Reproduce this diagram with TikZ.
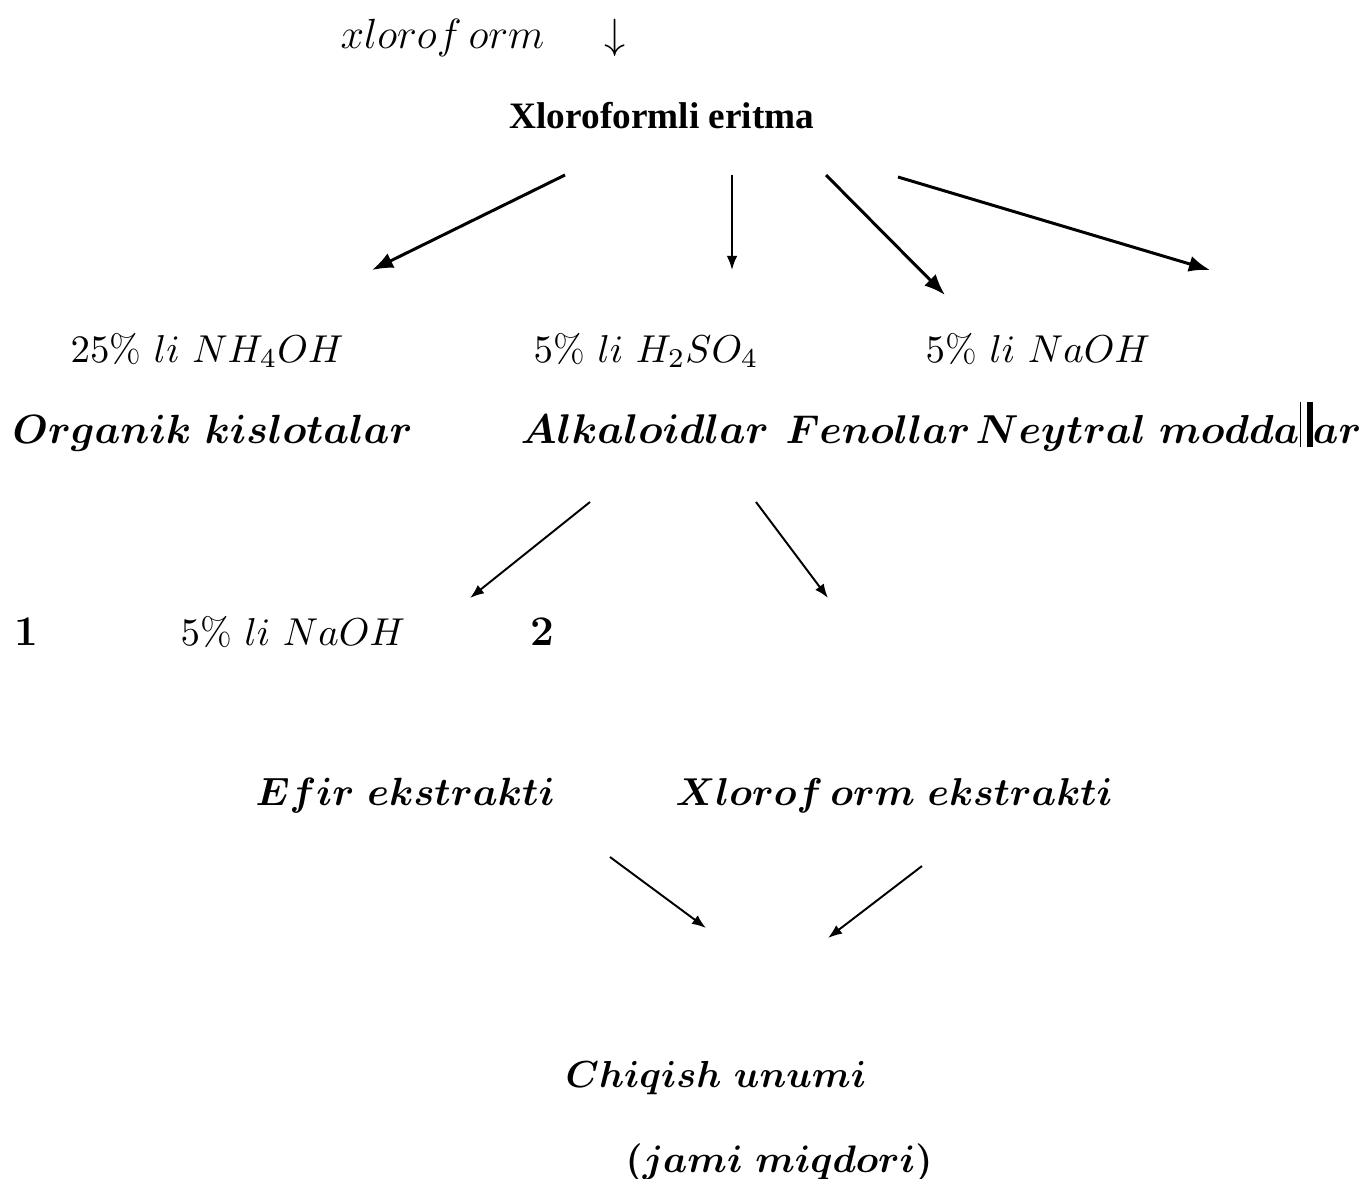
\RequirePackage{fix-cm}
\documentclass[tikz,border=0pt]{standalone}
\usepackage{fontspec}
\usepackage{amsmath}
\usetikzlibrary{arrows.meta}
\newfontfamily\timesbf{Liberation Serif}

\begin{document}
\begin{tikzpicture}[x=0.01cm,y=-0.01cm,
  reag/.style={anchor=base west,inner sep=0pt,font=\fontsize{#1}{14}\selectfont},
  reag/.default=11.05,
  prod/.style={anchor=base west,inner sep=0pt,font=\fontsize{#1}{14}\selectfont\boldmath},
  prod/.default=11.1,
  thickarr/.style={-{Latex[length=6pt,width=4.6pt]},line width=0.85pt},
  thinarr/.style={-{Latex[length=4pt,width=3pt]},line width=0.55pt}]
  \useasboundingbox (0,0) rectangle (1364,1178);

  % Kopf
  \node[reag=12] (xlf) at (340,48) {$xlorof\,orm$};
  \node[reag=12] (dn) at (604,48) {$\downarrow$};
  \node[anchor=base,inner sep=0pt,font=\timesbf\bfseries\fontsize{10.6}{13}\selectfont] (sol) at (662,128) {Xloroformli eritma};

  % Reagenzien
  \node[reag] (nh) at (70,362) {$25\%\ li\ NH_4OH$};
  \node[reag] (hs) at (533,362) {$5\%\ li\ H_2SO_4$};
  \node[reag] (na) at (925,362) {$5\%\ li\ NaOH$};

  % Fraktionen
  \node[prod=11.6] (org) at (12,443) {$Organik\ kislotalar$};
  \node[prod=11.8] (alk) at (520,443) {$Alkaloidlar$};
  \node[prod=11.4] (fen) at (785,443) {$Fenollar$};
  \node[prod=11.5] (ney) at (975,443) {$Neytral\ modda$\rule[-0.25ex]{0.3pt}{2.6ex}\,\rule[-0.25ex]{1.6pt}{2.6ex}$ar$};

  % Stufe 2
  \node[reag=12,font=\fontsize{12}{14}\selectfont\bfseries] (n1) at (14,645) {1};
  \node[reag] (na2) at (180,645) {$5\%\ li\ NaOH$};
  \node[reag=12,font=\fontsize{12}{14}\selectfont\bfseries] (n2) at (530,645) {2};

  \node[prod=11.2] (ef) at (255,805) {$Efir\ ekstrakti$};
  \node[prod=11.05] (xe) at (675,805) {$Xlorof\,orm\ ekstrakti$};

  \node[prod=10.7] (chq) at (565,1087) {$Chiqish\ unumi$};
  \node[prod=10.9] (jm) at (625,1172) {$(jami\ miqdori)$};

  % Pfeile
  \coordinate (a1) at (565,175);  \coordinate (b1) at (372,270);
  \coordinate (a2) at (732,175);  \coordinate (b2) at (732,270);
  \coordinate (a3) at (826,175);  \coordinate (b3) at (945,295);
  \coordinate (a4) at (898,177);  \coordinate (b4) at (1210,270);
  \draw[thickarr] (a1) -- (b1);
  \draw[thinarr] (a2) -- (b2);
  \draw[thickarr] (a3) -- (b3);
  \draw[thickarr] (a4) -- (b4);

  \coordinate (c1) at (590,502);  \coordinate (d1) at (470,598);
  \coordinate (c2) at (756,502);  \coordinate (d2) at (828,598);
  \draw[thinarr] (c1) -- (d1);
  \draw[thinarr] (c2) -- (d2);

  \coordinate (e1) at (610,857);  \coordinate (f1) at (706,928);
  \coordinate (e2) at (922,866);  \coordinate (f2) at (828,938);
  \draw[thinarr] (e1) -- (f1);
  \draw[thinarr] (e2) -- (f2);
\end{tikzpicture}
\end{document}
